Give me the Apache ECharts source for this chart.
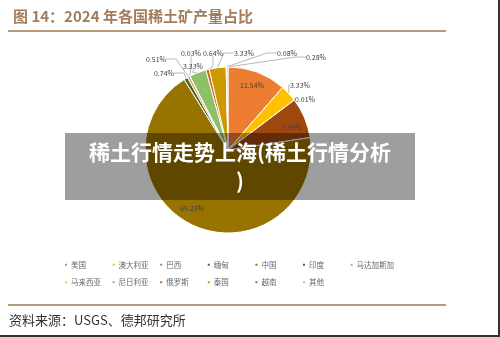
<!DOCTYPE html>
<html>
<head>
<meta charset="utf-8">
<script src="https://cdn.jsdelivr.net/npm/echarts@6/dist/echarts.min.js"></script>
<style>
    html, body { margin: 0; padding: 0; background: #fff; }
    #chart { width: 500px; height: 337px; }
</style>
</head>
<body>
<div id="chart"></div>
<script>
    // 各国稀土矿产量占比 (%)
    var countries = ['美国', '澳大利亚', '巴西', '缅甸', '中国', '印度', '马达加斯加',
        '马来西亚', '尼日利亚', '俄罗斯', '泰国', '越南', '其他'];
    var shares = [11.54, 3.33, 0.01, 7.95, 69.23, 0.74, 0.51, 0.03, 3.33, 0.64, 3.33, 0.08, 0.28];
    var insideLabels = ['美国', '缅甸', '中国'];

    var palette = ['#ED7D31', '#FFC000', '#70AD47', '#9E480E', '#997300', '#43682B', '#F1975A',
        '#FFCD33', '#8CC168', '#D26012', '#CC9A00', '#5A8A39', '#F4B183'];

    // where the data labels sit (Excel layout), by data index
    var labelSpots = [
        [252, 85], [300, 85], [305, 99], [292, 127], [192, 208], [164, 73], [156, 59],
        [191, 53], [193, 66], [213, 53], [244, 53], [287, 53], [316, 57]
    ];

    var font = '"Noto Sans CJK SC", "Noto Sans", sans-serif';

    var pieData = countries.map(function (name, i) {
        var inside = insideLabels.indexOf(name) >= 0;
        return {
            name: name,
            value: shares[i],
            label: inside ? { position: 'inside' } : { position: 'outside' },
            labelLine: { show: !inside }
        };
    });

    // legend: 7 columns, 2 rows (one vertical legend per column)
    var legends = [];
    for (var c = 0; c < 7; c++) {
        var names = [countries[c]];
        if (countries[c + 7]) names.push(countries[c + 7]);
        legends.push({
            data: names,
            orient: 'vertical',
            left: 63 + c * 47.6,
            top: 261,
            itemWidth: 4,
            itemHeight: 4,
            itemGap: 10,
            padding: 0,
            icon: 'rect',
            textStyle: { color: '#666', fontSize: 7.5, fontFamily: font, padding: [0, 0, 0, -2] }
        });
    }

    var chart = echarts.init(document.getElementById('chart'));
    chart.setOption({
        animation: false,
        color: palette,
        title: {
            text: '图 14：2024 年各国稀土矿产量占比',
            left: 8,
            top: 4,
            textStyle: { color: '#A27D5B', fontSize: 15, fontWeight: 'bold', fontFamily: font }
        },
        legend: legends,
        series: [{
            type: 'pie',
            center: [228, 150],
            radius: 83,
            startAngle: 90,
            clockwise: true,
            minShowLabelAngle: 0,
            itemStyle: { borderColor: '#fff', borderWidth: 1 },
            label: {
                formatter: function (p) { return p.value.toFixed(2) + '%'; },
                fontSize: 7, color: '#404040', fontFamily: font
            },
            labelLine: { length: 12, length2: 10, lineStyle: { color: '#A6A6A6', width: 0.8 } },
            labelLayout: function (p) {
                var s = labelSpots[p.dataIndex];
                return { x: s[0], y: s[1], align: 'center', verticalAlign: 'middle' };
            },
            data: pieData
        }],
        graphic: [
            { type: 'rect', shape: { x: 8, y: 30, width: 438, height: 2 }, style: { fill: '#B99B7D' } },
            { type: 'rect', shape: { x: 8, y: 304, width: 438, height: 2 }, style: { fill: '#B99B7D' } },
            {
                type: 'text', left: 9, top: 314,
                style: { text: '资料来源：USGS、德邦研究所', fill: '#333', fontSize: 13, fontFamily: font }
            },
            { type: 'rect', shape: { x: 65, y: 133, width: 350, height: 67 }, style: { fill: 'rgba(0,0,0,0.38)' }, z: 100 },
            {
                type: 'text', z: 101, x: 240, y: 152,
                style: {
                    text: '稀土行情走势上海(稀土行情分析', fill: '#fff', fontSize: 21, fontWeight: 'bold',
                    fontFamily: font, align: 'center', verticalAlign: 'middle'
                }
            },
            {
                type: 'text', z: 101, x: 240, y: 181,
                style: {
                    text: ')', fill: '#fff', fontSize: 21, fontWeight: 'bold',
                    fontFamily: font, align: 'center', verticalAlign: 'middle'
                }
            },
            { type: 'rect', shape: { x: 498, y: 0, width: 2, height: 337 }, style: { fill: '#333' } },
            { type: 'rect', shape: { x: 0, y: 335, width: 500, height: 2 }, style: { fill: '#333' } }
        ]
    });
</script>
</body>
</html>
